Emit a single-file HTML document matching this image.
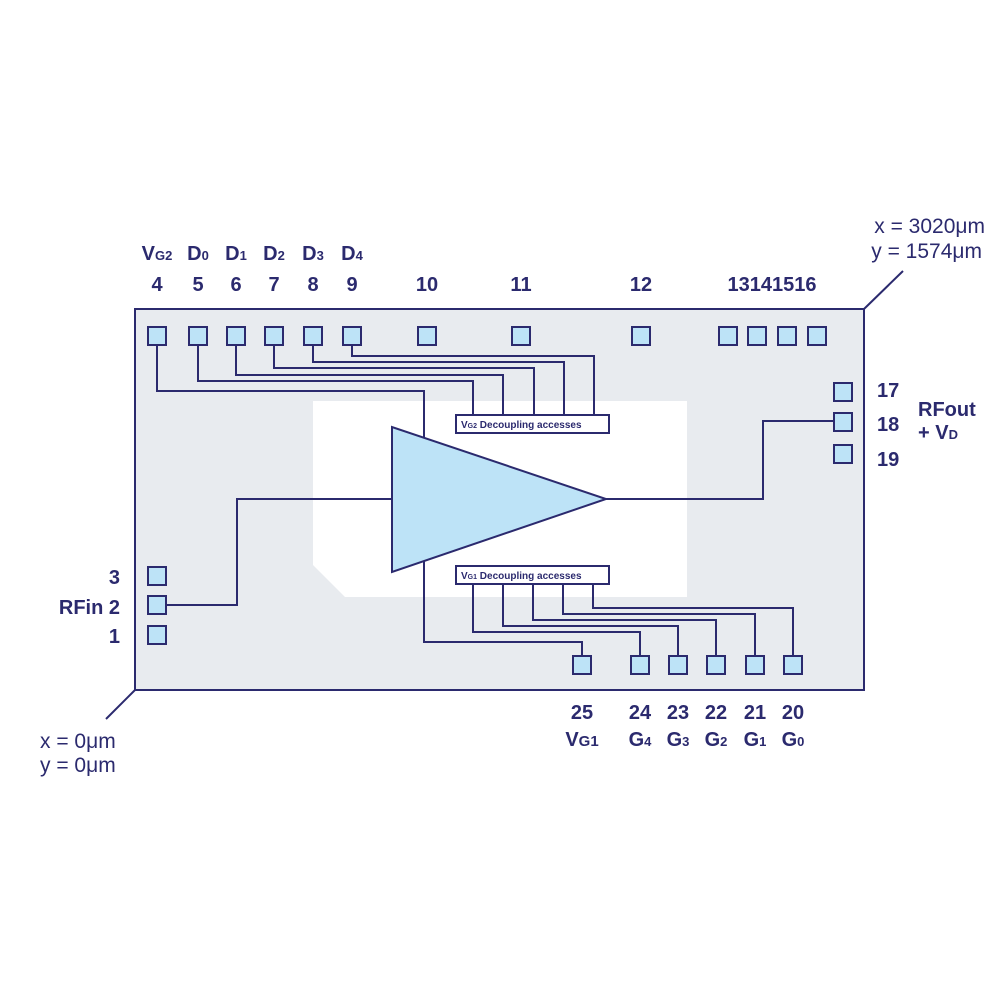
<!DOCTYPE html>
<html><head><meta charset="utf-8"><style>
html,body{margin:0;padding:0;background:#fff}
svg{display:block}
text{font-family:"Liberation Sans",sans-serif;fill:#2b2a6e;font-weight:bold}
text.n{font-weight:normal}
</style></head><body>
<svg width="1000" height="1000" viewBox="0 0 1000 1000">
<g stroke="#2b2a6e" stroke-width="2" fill="none">
<rect x="135" y="309" width="729" height="381" fill="#e8ebef"/>
<path d="M313 401H687V597H345L313 565Z" fill="#fff" stroke="none"/>
<path d="M864 309L903 271M135 690L106 719"/>
<path d="M157 345V391H424V440"/>
<path d="M198 345V381H473V415"/>
<path d="M236 345V375H503V415"/>
<path d="M274 345V368H534V415"/>
<path d="M313 345V362H564V415"/>
<path d="M352 345V356H594V415"/>
<path d="M424 560V642H582V656"/>
<path d="M473 584V632H640V656"/>
<path d="M503 584V626H678V656"/>
<path d="M533 584V620H716V656"/>
<path d="M563 584V614H755V656"/>
<path d="M593 584V608H793V656"/>
<path d="M166 605H237V499H392M606 499H763V421H834"/>
<polygon points="392,427 392,572 606,499" fill="#bde3f7"/>
<rect x="456" y="415" width="153" height="18" fill="#fff"/>
<rect x="456" y="566" width="153" height="18" fill="#fff"/>
<g fill="#bde3f7">
<rect x="148" y="327" width="18" height="18"/><rect x="189" y="327" width="18" height="18"/>
<rect x="227" y="327" width="18" height="18"/><rect x="265" y="327" width="18" height="18"/>
<rect x="304" y="327" width="18" height="18"/><rect x="343" y="327" width="18" height="18"/>
<rect x="418" y="327" width="18" height="18"/><rect x="512" y="327" width="18" height="18"/>
<rect x="632" y="327" width="18" height="18"/><rect x="719" y="327" width="18" height="18"/>
<rect x="748" y="327" width="18" height="18"/><rect x="778" y="327" width="18" height="18"/>
<rect x="808" y="327" width="18" height="18"/>
<rect x="834" y="383" width="18" height="18"/><rect x="834" y="413" width="18" height="18"/><rect x="834" y="445" width="18" height="18"/>
<rect x="148" y="567" width="18" height="18"/><rect x="148" y="596" width="18" height="18"/><rect x="148" y="626" width="18" height="18"/>
<rect x="573" y="656" width="18" height="18"/><rect x="631" y="656" width="18" height="18"/>
<rect x="669" y="656" width="18" height="18"/><rect x="707" y="656" width="18" height="18"/>
<rect x="746" y="656" width="18" height="18"/><rect x="784" y="656" width="18" height="18"/>
</g>
</g>
<g font-size="10">
<text x="461" y="428">V<tspan font-size="7">G2</tspan> Decoupling accesses</text>
<text x="461" y="579">V<tspan font-size="7">G1</tspan> Decoupling accesses</text>
</g>
<g font-size="20" text-anchor="middle">
<text x="157" y="260">V<tspan font-size="13">G2</tspan></text>
<text x="198" y="260">D<tspan font-size="13">0</tspan></text>
<text x="236" y="260">D<tspan font-size="13">1</tspan></text>
<text x="274" y="260">D<tspan font-size="13">2</tspan></text>
<text x="313" y="260">D<tspan font-size="13">3</tspan></text>
<text x="352" y="260">D<tspan font-size="13">4</tspan></text>
<text x="157" y="291">4</text><text x="198" y="291">5</text><text x="236" y="291">6</text>
<text x="274" y="291">7</text><text x="313" y="291">8</text><text x="352" y="291">9</text>
<text x="427" y="291">10</text><text x="521" y="291">11</text><text x="641" y="291">12</text>
<text x="772" y="291">13141516</text>
<text x="582" y="719">25</text><text x="640" y="719">24</text><text x="678" y="719">23</text>
<text x="716" y="719">22</text><text x="755" y="719">21</text><text x="793" y="719">20</text>
<text x="582" y="746">V<tspan font-size="15">G1</tspan></text>
<text x="640" y="746">G<tspan font-size="13">4</tspan></text>
<text x="678" y="746">G<tspan font-size="13">3</tspan></text>
<text x="716" y="746">G<tspan font-size="13">2</tspan></text>
<text x="755" y="746">G<tspan font-size="13">1</tspan></text>
<text x="793" y="746">G<tspan font-size="13">0</tspan></text>
</g>
<g font-size="20">
<text x="877" y="397">17</text><text x="877" y="431">18</text><text x="877" y="466">19</text>
<text x="918" y="416">RFout</text><text x="918" y="439">+ V<tspan font-size="13">D</tspan></text>
<text x="120" y="584" text-anchor="end">3</text>
<text x="120" y="614" text-anchor="end">RFin  2</text>
<text x="120" y="643" text-anchor="end">1</text>
<text class="n" x="985" y="233" text-anchor="end" font-size="21">x = 3020μm</text>
<text class="n" x="982" y="258" text-anchor="end" font-size="21">y = 1574μm</text>
<text class="n" x="40" y="748" font-size="21">x = 0μm</text>
<text class="n" x="40" y="772" font-size="21">y = 0μm</text>
</g>
</svg>
</body></html>
